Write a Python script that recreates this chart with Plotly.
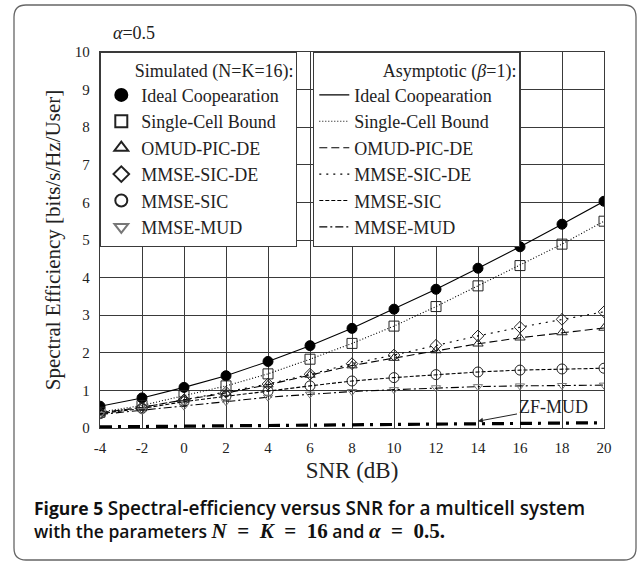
import plotly.graph_objects as go

# ---------------- data ----------------
snr_db = [-4, -2, 0, 2, 4, 6, 8, 10, 12, 14, 16, 18, 20]

ideal_coop    = [0.58, 0.80, 1.08, 1.39, 1.77, 2.19, 2.65, 3.16, 3.69, 4.25, 4.82, 5.42, 6.03]
single_cell   = [0.42, 0.60, 0.86, 1.12, 1.44, 1.83, 2.25, 2.71, 3.23, 3.78, 4.32, 4.89, 5.50]
omud_pic_de   = [0.40, 0.55, 0.75, 0.93, 1.15, 1.41, 1.66, 1.86, 2.06, 2.24, 2.40, 2.54, 2.66]
mmse_sic_de   = [0.40, 0.55, 0.75, 0.95, 1.17, 1.43, 1.71, 1.94, 2.20, 2.45, 2.68, 2.89, 3.09]
mmse_sic      = [0.38, 0.52, 0.70, 0.85, 0.98, 1.12, 1.25, 1.34, 1.42, 1.49, 1.54, 1.57, 1.59]
mmse_mud      = [0.36, 0.47, 0.58, 0.70, 0.82, 0.90, 0.97, 1.02, 1.07, 1.10, 1.12, 1.13, 1.14]
zf_mud        = [0.03, 0.04, 0.05, 0.06, 0.07, 0.08, 0.09, 0.10, 0.11, 0.12, 0.13, 0.14, 0.14]

series_names = ["Ideal Coopearation", "Single-Cell Bound", "OMUD-PIC-DE",
                "MMSE-SIC-DE", "MMSE-SIC", "MMSE-MUD"]
x_ticks = [-4, -2, 0, 2, 4, 6, 8, 10, 12, 14, 16, 18, 20]
y_ticks = [0, 1, 2, 3, 4, 5, 6, 7, 8, 9, 10]

# ---------------- styling ----------------
SERIF = "Liberation Serif"
values = [ideal_coop, single_cell, omud_pic_de, mmse_sic_de, mmse_sic, mmse_mud]
symbols = ["circle", "square-open", "triangle-up-open", "diamond-open", "circle-open", "triangle-down-open"]
msizes = [10, 10, 9, 9, 10, 8]
mcolors = ["black", "#222", "#222", "#222", "#222", "#777"]
dashes = ["solid", "1px,2px", "8px,4px", "2px,5px", "4px,2px", "8px,3px,2px,3px"]

fig = go.Figure()

# asymptotic curves (lines)
for name, v, d in zip(series_names, values, dashes):
    fig.add_trace(go.Scatter(
        x=snr_db, y=v, mode="lines", name=name, legend="legend2",
        line=dict(color="black", width=1.1, dash=d)))

# ZF-MUD curve
fig.add_trace(go.Scatter(
    x=snr_db, y=zf_mud, mode="lines", name="ZF-MUD", showlegend=False,
    line=dict(color="black", width=3.2, dash="12px,6px,3px,7px")))

# simulated points (markers)
for name, v, s, ms, mc in zip(series_names, values, symbols, msizes, mcolors):
    fig.add_trace(go.Scatter(
        x=snr_db, y=v, mode="markers", name=name, legend="legend",
        marker=dict(symbol=s, size=ms, color=mc, line=dict(color=mc, width=1))))

def px2x(px):
    return (px - 100) / 504

def py2y(py):
    return (428 - py) / 376

grid = "#3a3a3a"
fig.update_layout(
    width=639, height=563,
    margin=dict(l=100, r=35, t=52, b=135),
    paper_bgcolor="white", plot_bgcolor="white",
    font=dict(family=SERIF, color="#222", size=15),
    xaxis=dict(range=[-4, 20], tickvals=x_ticks, ticktext=[str(t) for t in x_ticks],
               showgrid=True, gridcolor=grid, gridwidth=1.3, zeroline=False,
               showline=True, linecolor=grid, linewidth=1.3, mirror=True,
               ticks="outside", ticklen=6, tickcolor="rgba(0,0,0,0)",
               tickfont=dict(size=15, family=SERIF),
               title=dict(text="SNR (dB)", font=dict(size=23, family=SERIF), standoff=6)),
    yaxis=dict(range=[0, 10], tickvals=y_ticks, ticktext=[str(t) for t in y_ticks],
               showgrid=True, gridcolor=grid, gridwidth=1.3, zeroline=False,
               showline=True, linecolor=grid, linewidth=1.3, mirror=True,
               ticks="outside", ticklen=6, tickcolor="rgba(0,0,0,0)",
               tickfont=dict(size=15, family=SERIF),
               title=dict(text="Spectral Efficiency [bits/s/Hz/User]",
                          font=dict(size=21, family=SERIF), standoff=8)),
    legend=dict(x=0, y=1, xanchor="left", yanchor="top",
                bgcolor="white", bordercolor=grid, borderwidth=1.3,
                font=dict(size=18, family=SERIF, color="#222"),
                title=dict(text="\u2003\u2002 Simulated (N=K=16):", font=dict(size=18, family=SERIF)),
                tracegroupgap=0, itemsizing="constant"),
    legend2=dict(x=px2x(313), y=1, xanchor="left", yanchor="top",
                 bgcolor="white", bordercolor=grid, borderwidth=1.3,
                 font=dict(size=18, family=SERIF, color="#222"),
                 title=dict(text="\u2003\u2003\u2003\u2002 Asymptotic (<i>β</i>=1):",
                            font=dict(size=18, family=SERIF)),
                 tracegroupgap=0),
    showlegend=True,
)

# outer rounded frame
x0, x1, y0, y1 = px2x(14), px2x(636), py2y(560), py2y(5)
rx, ry = 12 / 504, 12 / 376
path = (f"M {x0+rx},{y0} L {x1-rx},{y0} Q {x1},{y0} {x1},{y0+ry} "
        f"L {x1},{y1-ry} Q {x1},{y1} {x1-rx},{y1} "
        f"L {x0+rx},{y1} Q {x0},{y1} {x0},{y1-ry} "
        f"L {x0},{y0+ry} Q {x0},{y0} {x0+rx},{y0} Z")
fig.add_shape(type="path", path=path, xref="paper", yref="paper",
              line=dict(color="#666", width=1.3), layer="below")

# alpha label
fig.add_annotation(x=px2x(111), y=py2y(33), xref="paper", yref="paper",
                   text="<i>α</i>=0.5", showarrow=False, xanchor="left", yanchor="middle",
                   font=dict(size=18, family=SERIF, color="#222"))

# ZF-MUD annotation with arrow
fig.add_annotation(x=14, y=zf_mud[9] + 0.06, xref="x", yref="y",
                   text="ZF-MUD", showarrow=True, arrowhead=2, arrowsize=1, arrowwidth=1,
                   arrowcolor="#222", ax=75, ay=-14, standoff=0,
                   font=dict(size=18, family=SERIF, color="#222"))

# caption (two lines)
CAP = "Open Sans"
EQ = " \u2005=\u2005 "
fig.add_annotation(
    x=px2x(32), y=py2y(508), xref="paper", yref="paper",
    xanchor="left", yanchor="middle", align="left", showarrow=False,
    text=("Figure 5 <span style='font-weight:600;font-size:19px'>"
          "Spectral-efficiency versus SNR for a multicell system</span>"),
    font=dict(size=17.5, family=CAP, color="#111", weight="bold"))
fig.add_annotation(
    x=px2x(32), y=py2y(531), xref="paper", yref="paper",
    xanchor="left", yanchor="middle", align="left", showarrow=False,
    text=("with the parameters <span style='font-family:Liberation Serif;font-size:21px'>"
          f"<i>N</i>{EQ}<i>K</i>{EQ}16</span>"
          " and <span style='font-family:Liberation Serif;font-size:21px'>"
          f"<i>α</i>{EQ}0.5.</span>"),
    font=dict(size=17.5, family=CAP, color="#111", weight=600))

fig.write_html("out.html", post_script="document.body.style.margin='0';",
               config={"displayModeBar": False})
